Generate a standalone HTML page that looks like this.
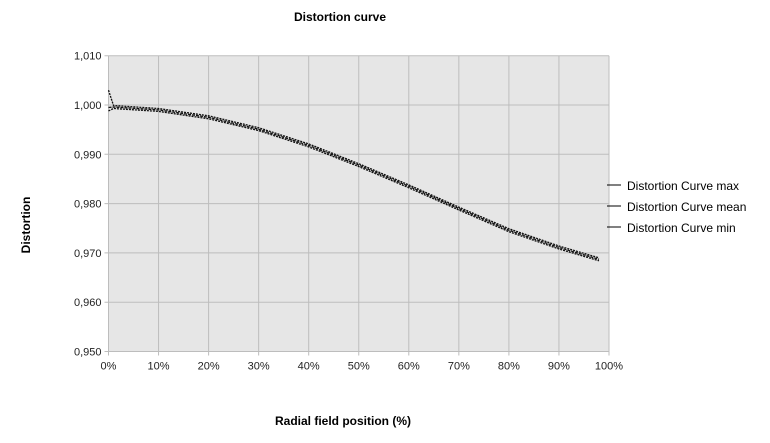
<!DOCTYPE html>
<html><head><meta charset="utf-8"><style>
body{margin:0;background:#fff;width:770px;height:438px;overflow:hidden;font-family:"Liberation Sans",sans-serif}
text{font-family:"Liberation Sans",sans-serif}
</style></head><body>
<svg width="770" height="438">
<text x="340" y="21" text-anchor="middle" font-size="12" font-weight="bold">Distortion curve</text>
<rect x="108.5" y="55.7" width="500.5" height="295.8" fill="#e6e6e6"/>
<g id="grid"></g><g id="axes"></g><g id="series"></g>
<text x="30" y="225" transform="rotate(-90 30 225)" text-anchor="middle" font-size="12" font-weight="bold">Distortion</text>
<text x="343" y="425" text-anchor="middle" font-size="12" font-weight="bold">Radial field position (%)</text>
<g>
<line x1="607" y1="185" x2="621" y2="185" stroke="#000"/><text x="627" y="190" font-size="12">Distortion Curve max</text>
<line x1="607" y1="206" x2="621" y2="206" stroke="#000"/><text x="627" y="211" font-size="12">Distortion Curve mean</text>
<line x1="607" y1="227" x2="621" y2="227" stroke="#000"/><text x="627" y="232" font-size="12">Distortion Curve min</text>
</g>
</svg>
<script>
const xPos=[0,1,10,20,30,40,50,60,70,80,90,98];
const meanVals=[0.9995,0.9996,0.9990,0.9975,0.9951,0.9918,0.9878,0.9835,0.9790,0.9746,0.9711,0.9687];
const maxVals=[1.0030,0.9999,0.9993,0.9978,0.9954,0.9921,0.9881,0.9838,0.9793,0.9749,0.9714,0.9690];
const minVals=[0.9988,0.9993,0.9987,0.9972,0.9948,0.9915,0.9875,0.9832,0.9787,0.9743,0.9708,0.9684];
const yTicks=[0.95,0.96,0.97,0.98,0.99,1.00,1.01];
const yTickLabels=["0,950","0,960","0,970","0,980","0,990","1,000","1,010"];
const xTicks=[0,10,20,30,40,50,60,70,80,90,100];
const NS="http://www.w3.org/2000/svg";
const X0=108.5,X1=609,Y0=351.5,Y1=55.7;
function sx(v){return X0+(v-0)/100*(X1-X0);}
function sy(v){return Y0-(v-0.95)/(0.06)*(Y0-Y1);}
function mk(t,a,p){const e=document.createElementNS(NS,t);for(const k in a)e.setAttribute(k,a[k]);p.appendChild(e);return e;}
const grid=document.getElementById('grid'),axes=document.getElementById('axes'),ser=document.getElementById('series');
yTicks.forEach((v,i)=>{
 const l=mk('line',{x1:X0-4,x2:X1,y1:sy(v),y2:sy(v),stroke:'#bdbdbd'},grid);
 
 
 const t=mk('text',{x:X0-7,y:sy(v)+4,'text-anchor':'end','font-size':11,fill:'#222'},axes);
 t.textContent=yTickLabels[i];
 
 
});
xTicks.forEach(v=>{
 const l=mk('line',{x1:sx(v),x2:sx(v),y1:Y1,y2:Y0+4,stroke:'#bdbdbd'},grid);
 
 
 const t=mk('text',{x:sx(v),y:Y0+18,'text-anchor':'middle','font-size':11,fill:'#222'},axes);
 t.textContent=v+'%';
 
 
});
const path=vals=>vals.map((v,i)=>(i?'L':'M')+sx(xPos[i]).toFixed(1)+','+sy(v).toFixed(1)).join('');
[[maxVals,'series-max','2,1'],[minVals,'series-min','2,1'],[meanVals,'series-mean','3,1']].forEach(([vals,name,d])=>{
 const p=mk('path',{d:path(vals),fill:'none',stroke:'#111','stroke-width':1.3,'stroke-dasharray':d},ser);
 
 
});
</script>
</body></html>
